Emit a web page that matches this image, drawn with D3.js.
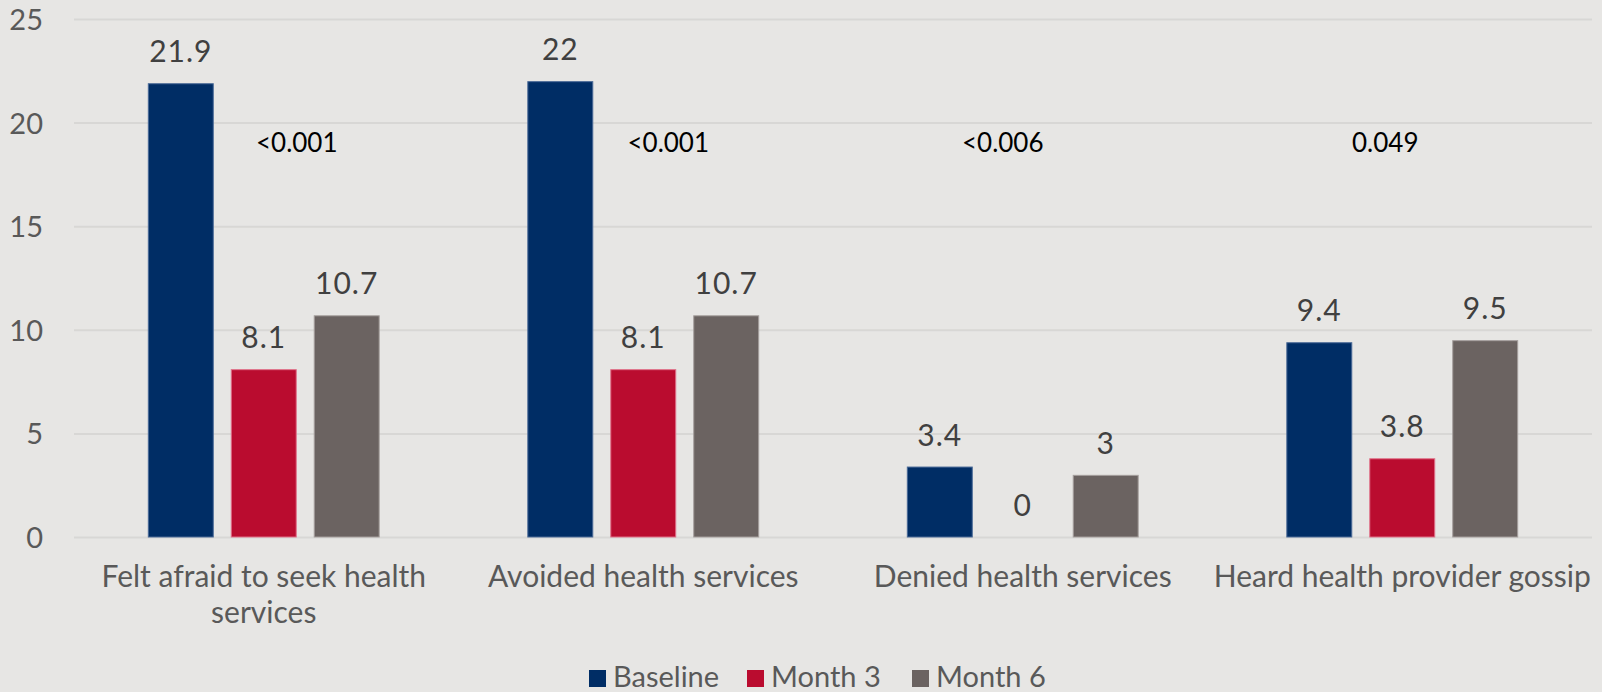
<!DOCTYPE html>
<html>
<head>
<meta charset="utf-8">
<script src="https://cdn.jsdelivr.net/npm/d3@7"></script>
<style>
  html, body { margin: 0; padding: 0; background: #e7e6e4; }
  svg { display: block; }
  text { font-family: Lato, "Open Sans", sans-serif; }
</style>
</head>
<body>
<svg id="chart" width="1602" height="692"></svg>
<script>
// Categories and series
const categories = [
  "Felt afraid to seek health services",
  "Avoided health services",
  "Denied health services",
  "Heard health provider gossip"
];
const seriesNames = ["Baseline", "Month 3", "Month 6"];
const baseline = [21.9, 22, 3.4, 9.4];
const month3   = [8.1, 8.1, 0, 3.8];
const month6   = [10.7, 10.7, 3, 9.5];
const pValues  = ["<0.001", "<0.001", "<0.006", "0.049"];
const yTicks   = [0, 5, 10, 15, 20, 25];

const seriesValues = [baseline, month3, month6];
const colors = ["#002d65", "#ba0c2f", "#6b6361"];
const strokes = ["#4a6a97", "#e07088", "#a59f9d"];

// Layout
const W = 1602, H = 692;
const plotLeft = 74, plotRight = 1592, plotTop = 19, plotBottom = 537;

const svg = d3.select("#chart");
svg.append("rect").attr("width", W).attr("height", H).attr("fill", "#e7e6e4");

const x0 = d3.scaleBand().domain(categories).range([plotLeft, plotRight]).padding(0);
const groupW = x0.bandwidth() * 0.611;
const x1 = d3.scaleBand().domain(seriesNames)
  .range([(x0.bandwidth() - groupW) / 2, (x0.bandwidth() + groupW) / 2])
  .paddingInner(0.205).paddingOuter(0);
const y = d3.scaleLinear().domain([0, 25]).range([plotBottom, plotTop]);

// Gridlines and value axis
const yAxis = d3.axisLeft(y).tickValues(yTicks).tickSize(-(plotRight - plotLeft)).tickPadding(31);
const gy = svg.append("g").attr("transform", `translate(${plotLeft},0)`).call(yAxis);
gy.select(".domain").remove();
gy.selectAll(".tick line").attr("stroke", "#d8d7d5").attr("stroke-width", 2);
gy.selectAll(".tick text")
  .attr("fill", "#595959").style("font-size", "29px").attr("dy", "0.36em");

// Bars
const groups = svg.append("g").selectAll("g")
  .data(categories)
  .join("g")
  .attr("transform", d => `translate(${x0(d)},0)`);

groups.each(function(cat, ci) {
  const g = d3.select(this);
  const rows = seriesNames.map((s, si) => ({ s, si, v: seriesValues[si][ci] }));
  g.selectAll("rect")
    .data(rows.filter(r => r.v > 0))
    .join("rect")
    .attr("x", r => x1(r.s) + 0.5)
    .attr("width", x1.bandwidth() - 1)
    .attr("y", r => y(r.v) + 0.5)
    .attr("height", r => y(0) - y(r.v) - 0.5)
    .attr("fill", r => colors[r.si])
    .attr("stroke", r => strokes[r.si])
    .attr("stroke-width", 1);
  g.selectAll("text.val")
    .data(rows)
    .join("text")
    .attr("class", "val")
    .attr("x", r => x1(r.s) + x1.bandwidth() / 2)
    .attr("y", r => y(r.v) - 21)
    .attr("text-anchor", "middle")
    .attr("fill", "#404040")
    .style("font-size", "30px")
    .style("letter-spacing", "1px")
    .text(r => r.v);
});

// Significance labels placed above each group
const pOffsets = [33, 25, -20, -17];
svg.append("g").selectAll("text")
  .data(pValues)
  .join("text")
  .attr("x", (d, i) => x0(categories[i]) + x0.bandwidth() / 2 + pOffsets[i])
  .attr("y", 152)
  .attr("text-anchor", "middle")
  .attr("fill", "#000")
  .style("font-size", "26px")
  .text(d => d);

// Category axis labels with wrapping
const xAxis = d3.axisBottom(x0).tickSize(0).tickPadding(0);
const gx = svg.append("g").attr("transform", `translate(0,${plotBottom})`).call(xAxis);
gx.select(".domain").remove();
gx.selectAll(".tick text")
  .attr("fill", "#595959")
  .style("font-size", "30px")
  .attr("y", 50)
  .attr("dy", 0)
  .each(function() {
    const t = d3.select(this);
    const words = t.text().split(/\s+/);
    const maxW = x0.bandwidth() + 12;
    t.text(null);
    let line = [];
    let tspan = t.append("tspan").attr("x", 0).attr("dy", 0);
    for (const w of words) {
      line.push(w);
      tspan.text(line.join(" "));
      if (tspan.node().getComputedTextLength() > maxW && line.length > 1) {
        line.pop();
        tspan.text(line.join(" "));
        line = [w];
        tspan = t.append("tspan").attr("x", 0).attr("dy", 36).text(w);
      }
    }
  });

// Legend
const legend = svg.append("g").attr("transform", "translate(589,670)");
const legX = [0, 158, 323];
seriesNames.forEach((s, i) => {
  const lg = legend.append("g").attr("transform", `translate(${legX[i]},0)`);
  lg.append("rect").attr("width", 17).attr("height", 17).attr("fill", colors[i]);
  lg.append("text").attr("x", 24).attr("y", 17)
    .attr("fill", "#595959").style("font-size", "29px").text(s);
});
</script>
</body>
</html>
